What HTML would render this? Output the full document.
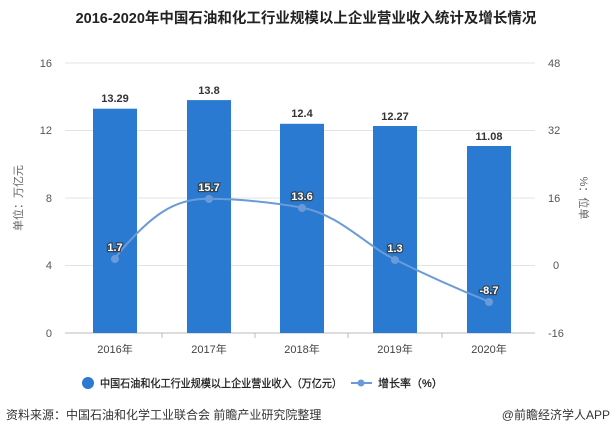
<!DOCTYPE html><html><head><meta charset="utf-8"><style>body{margin:0;background:#fff}svg{display:block}text{font-family:"Liberation Sans","Noto Sans CJK SC",sans-serif}</style></head><body>
<svg width="612" height="437" viewBox="0 0 612 437">
<text x="306" y="23" text-anchor="middle" font-size="14.5" font-weight="bold" fill="#222">2016-2020年中国石油和化工行业规模以上企业营业收入统计及增长情况</text>
<g stroke="#e3e3e3" stroke-width="1">
<line x1="65" x2="535" y1="63" y2="63"/><line x1="65" x2="535" y1="130.5" y2="130.5"/><line x1="65" x2="535" y1="198" y2="198"/><line x1="65" x2="535" y1="265.5" y2="265.5"/></g>
<line x1="65" x2="535" y1="333" y2="333" stroke="#bbb"/>
<g stroke="#bbb"><line x1="162" x2="162" y1="333" y2="338"/><line x1="255" x2="255" y1="333" y2="338"/><line x1="348" x2="348" y1="333" y2="338"/><line x1="442" x2="442" y1="333" y2="338"/></g>
<g font-size="11" fill="#555" text-anchor="end"><text x="52" y="67">16</text><text x="52" y="134">12</text><text x="52" y="202">8</text><text x="52" y="269">4</text><text x="52" y="337">0</text></g>
<g font-size="11" fill="#555" text-anchor="start"><text x="548" y="67">48</text><text x="548" y="134">32</text><text x="548" y="202">16</text><text x="553" y="269">0</text><text x="548" y="337">-16</text></g>
<text transform="translate(22,198) rotate(-90)" font-size="11" fill="#666" text-anchor="middle">单位：万亿元</text>
<text transform="translate(580,198) rotate(90)" font-size="11" fill="#666" text-anchor="middle">%：位单</text>
<g fill="#2a7ad2">
<rect x="93" y="108.7" width="44" height="224.3"/><rect x="187" y="100.1" width="44" height="232.9"/><rect x="280" y="123.8" width="44" height="209.2"/><rect x="373" y="126" width="44" height="207"/><rect x="467" y="146" width="44" height="187"/></g>
<g font-size="11" font-weight="bold" fill="#333" text-anchor="middle"><text x="115" y="102">13.29</text><text x="209" y="94">13.8</text><text x="302" y="117">12.4</text><text x="395" y="120">12.27</text><text x="489" y="140">11.08</text></g>
<path d="M115,258 C150,215 175,198 209,198.8 C245,199 275,203 302,207.6 C340,215 365,245 395,259.5 C430,277 460,290 489,301.7" fill="none" stroke="#6a9bd8" stroke-width="2"/>
<g fill="#6a9bd8"><circle cx="115" cy="259" r="4"/><circle cx="209" cy="199" r="4"/><circle cx="302" cy="208" r="4"/><circle cx="395" cy="260" r="4"/><circle cx="489" cy="302" r="4"/></g>
<g font-size="11" font-weight="bold" fill="#fff" stroke="#345" stroke-width="2.5" paint-order="stroke" text-anchor="middle"><text x="115" y="251">1.7</text><text x="209" y="191">15.7</text><text x="302" y="200">13.6</text><text x="395" y="252">1.3</text><text x="489" y="294">-8.7</text></g>
<g font-size="11" fill="#444" text-anchor="middle"><text x="115" y="353">2016年</text><text x="209" y="353">2017年</text><text x="302" y="353">2018年</text><text x="395" y="353">2019年</text><text x="489" y="353">2020年</text></g>
<circle cx="88" cy="383" r="6" fill="#2a7ad2"/>
<text x="100" y="387" font-size="11" fill="#222" stroke="#222" stroke-width="0.3" textLength="242" lengthAdjust="spacingAndGlyphs">中国石油和化工行业规模以上企业营业收入（万亿元）</text>
<line x1="351" x2="372" y1="383" y2="383" stroke="#6a9bd8" stroke-width="2"/><circle cx="361" cy="383" r="3.5" fill="#6a9bd8"/>
<text x="378" y="387" font-size="11" fill="#222" stroke="#222" stroke-width="0.3">增长率（%）</text>
<text x="6" y="419" font-size="12" fill="#333">资料来源：中国石油和化学工业联合会 前瞻产业研究院整理</text>
<text x="610" y="419" font-size="12" fill="#333" text-anchor="end">@前瞻经济学人APP</text>
</svg></body></html>
